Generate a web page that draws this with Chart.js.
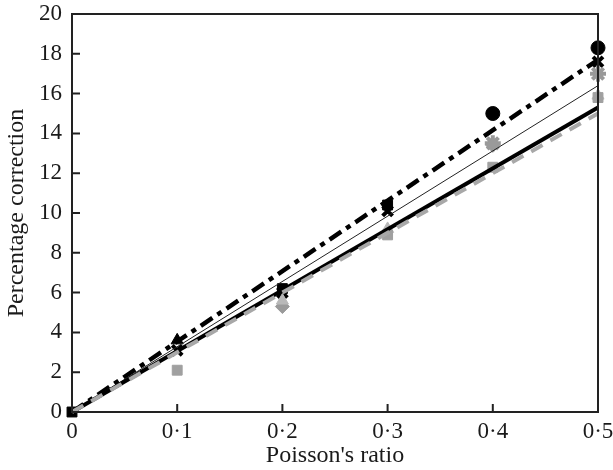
<!DOCTYPE html>
<html>
<head>
<meta charset="utf-8">
<script src="https://cdn.jsdelivr.net/npm/chart.js@4.4.1/dist/chart.umd.min.js"></script>
<style>
  html, body { margin: 0; padding: 0; background: #fff; }
  #wrap { width: 613px; height: 470px; }
</style>
</head>
<body>
<div id="wrap"><canvas id="chart" width="613" height="470"></canvas></div>
<script>
// fitted lines, all start at the origin
const lineX = [0, 0.5];
const dashBlackY = [0, 17.7];
const thinBlackY = [0, 16.4];
const solidBlackY = [0, 15.3];
const dashGreyY = [0, 15.0];
const errX = [0.5, 0.5];
const errY = [15.8, 13.6];

// measured points
const blackCircleX = [0.4, 0.5];
const blackCircleY = [15.0, 18.3];
const blackCrossX = [0.1, 0.2, 0.3, 0.5];
const blackCrossY = [3.1, 6.0, 10.1, 17.6];
const blackSquareX = [0, 0.2, 0.3];
const blackSquareY = [0, 6.2, 10.4];
const blackTriX = [0.1];
const blackTriY = [3.6];
const greyStarX = [0.4, 0.5];
const greyStarY = [13.5, 17.0];
const greyDiamondX = [0.2, 0.4];
const greyDiamondY = [5.3, 13.4];
const greySquareX = [0.1, 0.3, 0.4, 0.5];
const greySquareY = [2.1, 8.9, 12.3, 15.8];
const greyTriX = [0.2, 0.3, 0.5];
const greyTriY = [5.6, 9.2, 15.9];

const xTicks = [0, 0.1, 0.2, 0.3, 0.4, 0.5];
const yTicks = [0, 2, 4, 6, 8, 10, 12, 14, 16, 18, 20];

const pts = (xs, ys) => xs.map((x, i) => ({ x: x, y: ys[i] }));

function lineSet(xs, ys, color, width, dash) {
    return {
        data: pts(xs, ys), showLine: true, borderColor: color, borderWidth: width,
        borderDash: dash, pointRadius: 0, fill: false, clip: false
    };
}
function markSet(xs, ys, style, color, radius, bw) {
    return {
        data: pts(xs, ys), showLine: false, pointStyle: style, pointRadius: radius,
        backgroundColor: color, borderColor: color, borderWidth: bw || 1, clip: false
    };
}

// frame + inward tick marks
const framePlugin = {
    id: 'frame',
    afterDraw(chart) {
        const c = chart.ctx, a = chart.chartArea;
        const xs = chart.scales.x, ys = chart.scales.y;
        c.save();
        c.strokeStyle = '#222';
        c.lineWidth = 2;
        c.strokeRect(a.left, a.top, a.right - a.left, a.bottom - a.top);
        c.beginPath();
        xTicks.forEach(v => {
            const p = xs.getPixelForValue(v);
            c.moveTo(p, a.bottom); c.lineTo(p, a.bottom - 8);
        });
        yTicks.forEach(v => {
            const p = ys.getPixelForValue(v);
            c.moveTo(a.left, p); c.lineTo(a.left + 8, p);
        });
        c.stroke();
        c.restore();
    }
};

const serif = 'Liberation Serif';

new Chart(document.getElementById('chart'), {
    type: 'scatter',
    data: {
        datasets: [
            lineSet(lineX, dashGreyY, '#a8a8a8', 4, [13, 9]),
            lineSet(lineX, solidBlackY, '#000', 4, []),
            lineSet(lineX, thinBlackY, '#222', 1, []),
            lineSet(lineX, dashBlackY, '#000', 4.5, [14, 6, 5, 6]),
            lineSet(errX, errY, '#222', 2, [1, 2]),
            markSet(greySquareX, greySquareY, 'rect', '#a0a0a0', 7),
            markSet(greyTriX, greyTriY, 'triangle', '#b8b8b8', 7),
            markSet(greyDiamondX, greyDiamondY, 'rectRot', '#9a9a9a', 7),
            markSet(greyStarX, greyStarY, 'star', '#999', 8, 4),
            markSet(blackTriX, blackTriY, 'triangle', '#000', 7),
            markSet(blackSquareX, blackSquareY, 'rect', '#000', 7),
            markSet(blackCrossX, blackCrossY, 'crossRot', '#000', 7, 4),
            markSet(blackCircleX, blackCircleY, 'circle', '#000', 7)
        ]
    },
    options: {
        responsive: false,
        animation: false,
        layout: { padding: { top: 14, right: 15, left: 0, bottom: 0 } },
        plugins: { legend: { display: false }, tooltip: { enabled: false } },
        scales: {
            x: {
                type: 'linear', min: 0, max: 0.5,
                afterBuildTicks: s => { s.ticks = xTicks.map(v => ({ value: v })); },
                afterFit: s => { s.height = 58; s.paddingLeft = 0; s.paddingRight = 0; },
                grid: { display: false, drawTicks: false },
                border: { display: false },
                ticks: {
                    color: '#1a1a1a', padding: 6,
                    font: { family: serif, size: 23 },
                    callback: v => v === 0 ? '0' : v.toFixed(1).replace('.', '\u00b7')
                },
                title: {
                    display: true, text: "Poisson's ratio", color: '#1a1a1a',
                    font: { family: serif, size: 24 }, padding: { top: 0, bottom: 0 }
                }
            },
            y: {
                type: 'linear', min: 0, max: 20,
                afterBuildTicks: s => { s.ticks = yTicks.map(v => ({ value: v })); },
                afterFit: s => { s.width = 72; s.paddingTop = 0; s.paddingBottom = 0; },
                grid: { display: false, drawTicks: false },
                border: { display: false },
                ticks: {
                    color: '#1a1a1a', padding: 10,
                    font: { family: serif, size: 23 }
                },
                title: {
                    display: true, text: 'Percentage correction', color: '#1a1a1a',
                    font: { family: serif, size: 24 }, padding: { top: 2, bottom: 0 }
                }
            }
        }
    },
    plugins: [framePlugin]
});
</script>
</body>
</html>
